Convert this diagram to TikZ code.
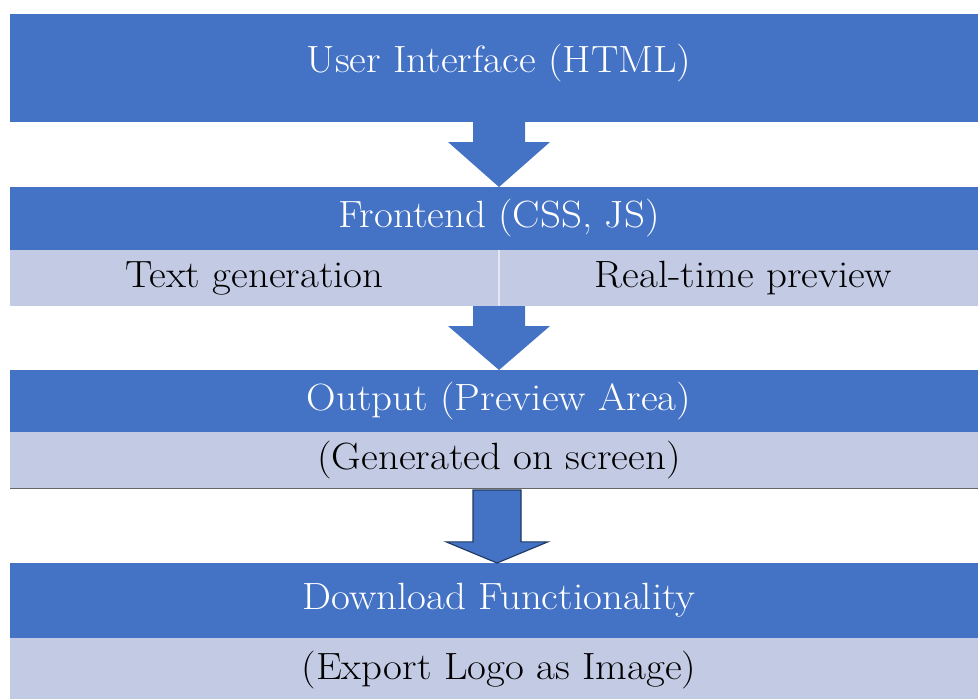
\documentclass[tikz,border=0pt]{standalone}
\usetikzlibrary{positioning,calc}

\definecolor{boxblue}{RGB}{68,114,196}
\definecolor{boxlight}{RGB}{195,202,228}
\definecolor{edgenavy}{RGB}{31,56,100}

\newcommand{\wide}[1]{\scalebox{1.08}[1]{#1}}	%reference text is a bit wider

\tikzset{
	darkbox/.style={fill=boxblue, text=white, minimum width=24.45cm, inner sep=0pt, outer sep=0pt, font=\fontsize{27}{31}\selectfont},
	lightbox/.style={fill=boxlight, text=black, minimum width=24.45cm, inner sep=0pt, outer sep=0pt, font=\fontsize{27}{31}\selectfont},
	halfbox/.style={lightbox, minimum width=12.225cm},
	arrowfill/.style={fill=boxblue, draw=none},
	arrowedge/.style={fill=boxblue, draw=edgenavy, line width=0.8pt, line join=miter},
}

% #1 style, #2 start, #3 tip, #4 shaft half width, #5 head length
\newcommand{\blockarrow}[5]{%
	\draw[#1] ($#2+(-#4,0)$) -- ($#2+(#4,0)$) -- ($#3+(#4,#5)$) -- ($#3+(1.275,#5)$)
	-- #3 -- ($#3+(-1.275,#5)$) -- ($#3+(-#4,#5)$) -- cycle;}

\begin{document}
\begin{tikzpicture}
	\useasboundingbox (0,0) rectangle (24.45,-17.45);
	\clip (0,0) rectangle (24.45,-17.45);

	%BOXES
	\node[darkbox, minimum height=2.7cm, text depth=0.5cm] (ui) at (12.475,-1.7) {\wide{User Interface (HTML)}};
	\node[darkbox, minimum height=1.575cm, below=1.625cm of ui] (fe) {\wide{Frontend (CSS, JS)}};
	\node[halfbox, minimum height=1.4cm, anchor=north west] (tg) at (fe.south west) {\wide{Text generation}};
	\node[halfbox, minimum height=1.4cm, anchor=north east] (rp) at (fe.south east) {\wide{Real-time preview}};
	\draw[white!55!boxlight, line width=0.8pt] (tg.north east) -- (tg.south east);	%divider
	\node[darkbox, minimum height=1.55cm, below=1.6cm of tg.south east] (out) {\wide{Output (Preview Area)}};
	\node[lightbox, minimum height=1.4cm, below=0pt of out] (gen) {\wide{(Generated on screen)}};
	\draw[gray!80!black, line width=0.6pt] (gen.south west) -- (gen.south east);	%bottom edge
	\node[darkbox, minimum height=1.875cm, below=1.875cm of gen] (dl) {\wide{Download Functionality}};
	\node[lightbox, minimum height=1.6cm, below=0pt of dl] (exp) {\wide{(Export Logo as Image)}};

	%ARROWS
	\blockarrow{arrowfill}{(ui.south)}{(fe.north)}{0.65}{1.125}
	\blockarrow{arrowfill}{(tg.south east)}{(out.north)}{0.65}{1.1}
	\blockarrow{arrowedge}{($(gen.south)+(-0.05,-0.05)$)}{($(dl.north)+(-0.05,0)$)}{0.6}{0.53}
\end{tikzpicture}
\end{document}
